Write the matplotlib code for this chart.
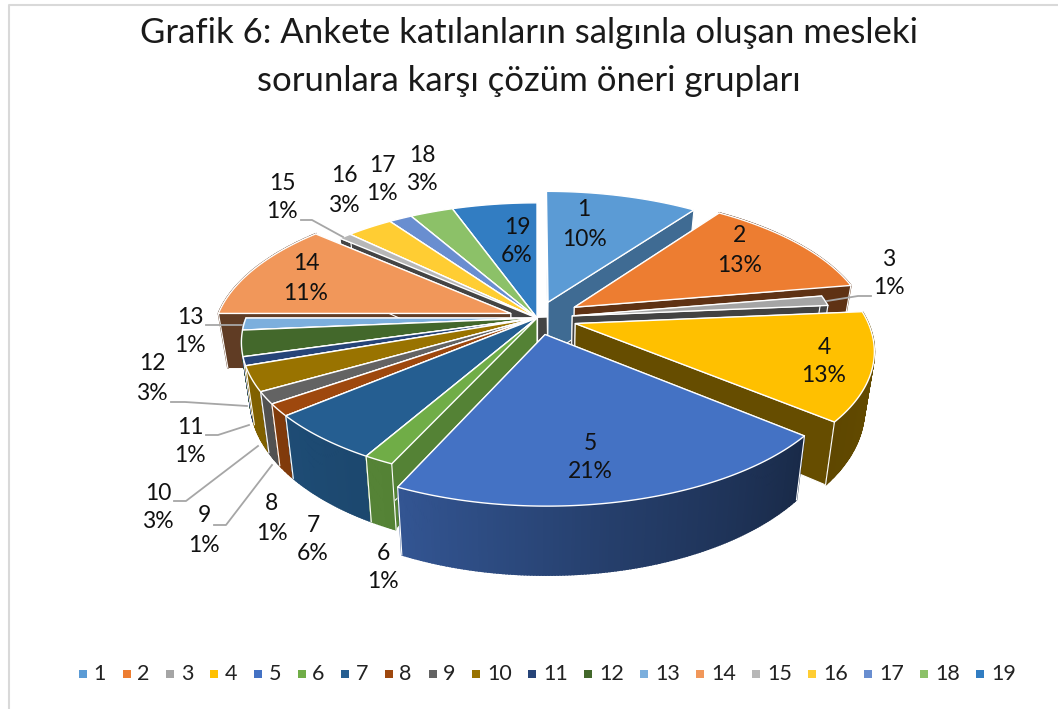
import numpy as np
import matplotlib
matplotlib.use('Agg')
import matplotlib.pyplot as plt

plt.rcParams['font.family'] = ['Lato', 'DejaVu Sans']

# data
title_lines = ["Grafik 6: Ankete katılanların salgınla oluşan mesleki",
               "sorunlara karşı çözüm öneri grupları"]
categories = [str(i) for i in range(1, 20)]
shares = [10, 13, 1, 13, 21, 1, 6, 1, 1, 3, 1, 3, 1, 11, 1, 3, 1, 3, 6]
colors = ['#5B9BD5', '#ED7D31', '#A5A5A5', '#FFC000', '#4472C4', '#70AD47', '#255E91',
          '#9E480E', '#636363', '#997300', '#264478', '#43682B', '#7CAFDD', '#F1975A',
          '#B7B7B7', '#FFCD33', '#698ED0', '#8CC168', '#327DC2']

# how each slice is pulled out and scaled in the picture
explode = [.123, .15, .12, .134, .12, 0, 0, 0, 0, 0, 0, 0, 0, .095, 0, 0, 0, 0, 0]
radius = [.98, .99, .88, .98, .98, .98, .98, .98, .98, .98, .98, .98, .98, .99, .98, .98, .98, .98, .98]
wall_shade = [.69, .4, .4, .4, .4, .75, .4, .4, .4, .4, .4, .4, .4, .4, .37, .4, .4, .4, .4]

# label centres (pixels), first line of the two
label_x = [584, 740, 889, 824, 590, 383, 313, 272, 204, 158, 190, 152, 190, 306, 282, 344, 382, 422, 517]
label_y = [210, 236, 259, 347, 443, 553, 525, 504, 516, 493, 427, 364, 317, 264, 183, 176, 165, 155, 227]
leaders = {
    3: [(827, 301), (858, 296), (871, 296)],
    9: [(214, 525), (226, 525), (272, 465)],
    10: [(174, 501), (186, 501), (258, 446)],
    11: [(206, 435), (218, 435), (249, 425)],
    12: [(171, 402), (185, 402), (247, 406)],
    13: [(206, 325), (242, 325)],
    15: [(301, 220), (312, 220), (343, 237)],
}

# perspective of the 3d pie
cx, cy = 537, 318
A, B, k = 297, 138, .178
depth = 55.5


def project(x, y, drop=0.0):
    x, y = np.asarray(x, float), np.asarray(y, float)
    s = 1 / (1 - k * y)
    return cx + A * x * s * (1 - .03 * drop), cy + B * y * s + depth * s * drop


def darker(col, f):
    return tuple(c * f for c in matplotlib.colors.to_rgb(col))


def outer_shade(th):
    return np.interp(th, [90, 130, 170, 205, 250, 268, 270], [.4, .37, .55, .75, .85, .85, .4])


fig = plt.figure(figsize=(10.58, 7.09), dpi=100)
ax = fig.add_axes([0, 0, 1, 1])
ax.set_xlim(0, 1058)
ax.set_ylim(709, 0)
ax.axis('off')

# the 3d view bends the angles a little compared with the plain percentages
cum = np.cumsum([0] + shares)
view = np.interp(cum, [0, 10, 23, 24, 37, 58, 59, 65, 66, 67, 70, 71, 74, 75, 86, 87, 90, 91, 94, 100],
                 [0, 10, 22.3, 23.6, 36, 56.9, 58.3, 63.9, 65.3, 66.7, 69.6, 70.6, 73.6, 75,
                  86.4, 87.2, 90.2, 91.7, 94.5, 100])
ang = view * 3.6

# centre block seen between the pulled out slices
hx, hy = project([0, .13, .13, 0], [0, -.01, -.01, 0], np.array([0, 0, .5, .5]))
ax.fill(hx, hy, color='#444444', lw=0, zorder=1)

slices = []
for i in range(len(shares)):
    mid = np.radians((ang[i] + ang[i + 1]) / 2)
    ox, oy = explode[i] * np.sin(mid), -explode[i] * np.cos(mid)
    slices.append((oy - .6 * radius[i] * np.cos(mid), i, ox, oy))
slices.sort()

z = 2
for _, i, ox, oy in slices:
    th = np.linspace(ang[i], ang[i + 1], max(3, int((ang[i + 1] - ang[i]) * 2)))
    r = np.radians(th)
    xs = ox + radius[i] * np.sin(r)
    ys = oy - radius[i] * np.cos(r)
    # radial walls
    for e in (0, -1):
        wx, wy = project([ox, xs[e]], [oy, ys[e]])
        bx, by = project([ox, xs[e]], [oy, ys[e]], 1.0)
        ax.fill(np.r_[wx, bx[::-1]], np.r_[wy, by[::-1]], fc=darker(colors[i], wall_shade[i]),
                ec='white', lw=.8, zorder=z)
        z += 1
    # outer wall, in small pieces for the gradient
    if ys.max() > -.3:
        tx, ty = project(xs, ys)
        bx, by = project(xs, ys, 1.0)
        for j in range(len(th) - 1):
            col = darker(colors[i], outer_shade(th[j] + .01))
            ax.fill([tx[j], tx[j + 1], bx[j + 1], bx[j]], [ty[j], ty[j + 1], by[j + 1], by[j]],
                    fc=col, ec=col, lw=1.2, zorder=z)
        ax.plot([tx[0], bx[0]], [ty[0], by[0]], color='white', lw=.8, zorder=z)
        ax.plot([tx[-1], bx[-1]], [ty[-1], by[-1]], color='white', lw=.8, zorder=z)
        z += 1
    # top face
    fx, fy = project(np.r_[ox, xs], np.r_[oy, ys])
    ax.fill(fx, fy, fc=colors[i], ec='white', lw=1, joinstyle='round', zorder=z)
    z += 1

for key, pts in leaders.items():
    ax.plot(*zip(*pts), color='#A6A6A6', lw=1.3, zorder=z)
z += 1

for i, cat in enumerate(categories):
    ax.text(label_x[i], label_y[i], cat, ha='center', va='center', fontsize=16.5, color='#111111', zorder=z)
    ax.text(label_x[i], label_y[i] + 29, f"{shares[i]}%", ha='center', va='center', fontsize=16.5,
            color='#111111', zorder=z)

ax.text(529, 33, title_lines[0], ha='center', va='center', fontsize=25, color='#1a1a1a')
ax.text(529, 81, title_lines[1], ha='center', va='center', fontsize=25, color='#1a1a1a')

# legend
lx = 83
for i, cat in enumerate(categories):
    ax.fill([lx - 4, lx + 4, lx + 4, lx - 4], [670, 670, 678, 678], color=colors[i], lw=0)
    ax.text(lx + 10.5, 674, cat, ha='left', va='center', fontsize=15.5, color='#222222')
    lx += 43.7 if len(cat) == 1 else 56

# chart frame
ax.plot([9, 9, 1058], [709, 5, 5], color='#D9D9D9', lw=1.5)

fig.savefig('out.png', dpi=100)
